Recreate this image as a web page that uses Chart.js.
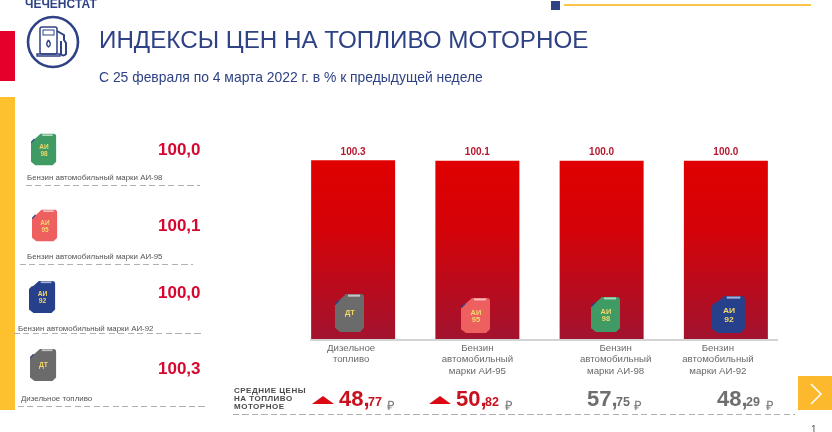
<!DOCTYPE html>
<html lang="ru">
<head>
<meta charset="utf-8">
<script src="https://cdn.jsdelivr.net/npm/chart.js@4/dist/chart.umd.min.js"></script>
<style>
    html, body { margin: 0; padding: 0; background: #fff; }
    #page { position: relative; width: 832px; height: 432px; overflow: hidden; font-family: "Liberation Sans", Arial, sans-serif; }
    #page div, #page svg { position: absolute; }
    #page canvas { position: absolute; left: 0; top: 0; }
    .t { white-space: nowrap; }
    .dash { height: 1px; background: repeating-linear-gradient(to right, #b0b0b0 0 6px, transparent 6px 9.500px); }
</style>
</head>
<body>
<div id="page">
    <canvas id="fuelChart" width="832" height="432"></canvas>
    <div style="left:0;top:31px;width:15px;height:50px;background:#e4002b"></div>
    <div style="left:0;top:97px;width:15px;height:313px;background:#fdc02f"></div>
    <div style="left:551px;top:1px;width:9px;height:9px;background:#2f4285"></div>
    <div style="left:564px;top:4px;width:247px;height:2px;background:#fbc64a"></div>
    <div class="t" style="left:25px;top:-3px;font-size:12px;font-weight:bold;color:#2f4285">ЧЕЧЕНСТАТ</div>
    <svg style="left:26px;top:15px" width="54" height="54" viewBox="0 0 54 54" fill="none" stroke="#2f4285">
        <circle cx="27" cy="27" r="25" stroke-width="2.600"/>
        <rect x="14" y="12" width="17" height="27" rx="2" stroke-width="1.500"/>
        <rect x="17" y="15" width="11" height="5" stroke-width="1"/>
        <path d="M11 41 H34 V39 H11 Z" stroke-width="1.400"/>
        <path d="M22.500 25 q-3.500 4.500 0 7 q3.500 -2.500 0 -7" stroke-width="1.400"/>
        <path d="M31 16 l7 4 v5 l2 3 v11 q-3 3 -5 0 v-13" stroke-width="2"/>
    </svg>
    <div class="t" style="left:99px;top:26px;font-size:24.200px;color:#2f4285">ИНДЕКСЫ ЦЕН НА ТОПЛИВО МОТОРНОЕ</div>
    <div class="t" style="left:99px;top:69px;font-size:13.900px;color:#2f4285">С 25 февраля по 4 марта 2022 г. в % к предыдущей неделе</div>
    <div class="t" style="left:234px;top:387px;font-size:8px;line-height:8px;font-weight:bold;color:#4a4a4a;letter-spacing:.5px">СРЕДНИЕ ЦЕНЫ<br>НА ТОПЛИВО<br>МОТОРНОЕ</div>
    <div class="dash" style="left:233px;top:414px;width:562px"></div>
    <div style="left:798px;top:376px;width:34px;height:34px;background:#fdb92e"></div>
    <svg style="left:798px;top:376px" width="34" height="34" fill="none" stroke="#fff" stroke-width="1.500"><path d="M13 8 L23 18 L13 28"/></svg>
    <div class="t" style="left:811px;top:424px;font-size:10px;color:#555">1</div>
</div>
<script>
    const categories = [['Дизельное', 'топливо'], ['Бензин', 'автомобильный', 'марки АИ-95'], ['Бензин', 'автомобильный', 'марки АИ-98'], ['Бензин', 'автомобильный', 'марки АИ-92']];
    const indexValues = [100.3, 100.1, 100.0, 100.0];
    const labelShift = [-2, 0, 14, -8];

    const canColors = ['#6b6b6b', '#ee5f60', '#3f9a63', '#27408b'];
    const canLabels = [['ДТ'], ['АИ', '95'], ['АИ', '98'], ['АИ', '92']];
    const canBoxes = [[335, 293, 30, 40], [461, 297, 30, 37], [591, 296, 30, 37], [712, 295, 34, 39]];

    const sideNames = ['Бензин автомобильный марки АИ-98', 'Бензин автомобильный марки АИ-95', 'Бензин автомобильный марки АИ-92', 'Дизельное топливо'];
    const sideValues = ['100,0', '100,1', '100,0', '100,3'];
    const sideColors = ['#3f9a63', '#ee5f60', '#27408b', '#6b6b6b'];
    const sideCanLabels = [['АИ', '98'], ['АИ', '95'], ['АИ', '92'], ['ДТ']];
    const sideCans = [[31, 133, 26, 33], [32, 209, 26, 33], [29, 280, 27, 34], [30, 348, 27, 34]];
    const sideNameX = [27, 27, 18, 21];
    const sideNameY = [173, 252, 324, 394];
    const sideValueY = [140, 216, 283, 359];
    const sideDash = [[26, 185, 174], [20, 264, 173], [14, 333, 188], [18, 406, 188]];

    const priceWhole = ['48', '50', '57', '48'];
    const priceCents = ['77', '82', '75', '29'];
    const priceX = [339, 456, 587, 717];
    const priceRubleX = [387, 505, 634, 766];
    const priceColors = ['#c8101e', '#c8101e', '#6e6e6e', '#6e6e6e'];
    const priceRise = [320, 437, null, null];

    const page = document.getElementById('page');

    function addCan(box, color, lines) {
        const [x, y, w, h] = box;
        const text = lines.map(function (line, i) {
            const ty = lines.length === 1 ? 21 : 18 + i * 8;
            return '<text x="15" y="' + ty + '" text-anchor="middle" font-size="7.5" font-weight="bold" fill="#f2d76b">' + line + '</text>';
        }).join('');
        const holder = document.createElementNS('http://www.w3.org/2000/svg', 'svg');
        holder.setAttribute('viewBox', '0 0 30 38');
        holder.setAttribute('preserveAspectRatio', 'none');
        holder.setAttribute('width', w);
        holder.setAttribute('height', h);
        holder.style.left = x + 'px';
        holder.style.top = y + 'px';
        holder.innerHTML = '<path d="M0 11 L11 1 H26 Q29 1 29 4 V33 L25 37 H5 L0 33 Z" fill="' + color + '"/>' +
            '<rect x="13" y="1.500" width="12" height="2" fill="#fff" opacity=".6"/>' +
            '<path d="M0 11 L4 7" stroke="#2f4285" stroke-width="1.500"/>' + text;
        page.appendChild(holder);
    }

    function addText(x, y, str, css) {
        const el = document.createElement('div');
        el.className = 't';
        el.textContent = str;
        el.style.cssText = 'left:' + x + 'px;top:' + y + 'px;' + css;
        page.appendChild(el);
    }

    sideNames.forEach(function (name, i) {
        addCan(sideCans[i], sideColors[i], sideCanLabels[i]);
        addText(sideNameX[i], sideNameY[i], name, 'font-size:7.900px;color:#555');
        addText(158, sideValueY[i], sideValues[i], 'font-size:17px;font-weight:bold;color:#d7062f');
        const d = document.createElement('div');
        d.className = 'dash';
        d.style.cssText = 'left:' + sideDash[i][0] + 'px;top:' + sideDash[i][1] + 'px;width:' + sideDash[i][2] + 'px';
        page.appendChild(d);
    });

    priceWhole.forEach(function (whole, i) {
        addText(priceX[i], 386, whole + ',', 'font-size:22px;font-weight:bold;color:' + priceColors[i]);
        addText(priceX[i] + 29, 395, priceCents[i], 'font-size:12.500px;font-weight:bold;color:' + priceColors[i]);
        addText(priceRubleX[i], 396, '₽', 'font-size:13px;color:#777');
        if (priceRise[i] !== null) {
            const tri = document.createElement('div');
            tri.style.cssText = 'left:' + (priceRise[i] - 8) + 'px;top:396px;width:0;height:0;' +
                'border-left:11px solid transparent;border-right:11px solid transparent;border-bottom:8px solid #d90a14';
            page.appendChild(tri);
        }
    });

    canColors.forEach(function (c, i) {
        addCan(canBoxes[i], c, canLabels[i]);
    });

    const barExtras = {
        id: 'barExtras',
        afterDatasetsDraw(chart) {
            const { ctx, scales: { x, y } } = chart;
            ctx.save();
            ctx.strokeStyle = '#a8a8a8';
            ctx.lineWidth = 1;
            ctx.beginPath();
            ctx.moveTo(310, y.getPixelForValue(0) + 1);
            ctx.lineTo(778, y.getPixelForValue(0) + 1);
            ctx.stroke();

            ctx.textAlign = 'center';
            ctx.textBaseline = 'middle';
            indexValues.forEach(function (v, i) {
                const cx = x.getPixelForValue(i);
                ctx.font = 'bold 10px "Liberation Sans", Arial, sans-serif';
                ctx.fillStyle = '#b5182e';
                ctx.fillText(v.toFixed(1), cx, y.getPixelForValue(v) - 8.500);
                ctx.font = '9.700px "Liberation Sans", Arial, sans-serif';
                ctx.fillStyle = '#6a6a6a';
                categories[i].forEach(function (line, n) {
                    ctx.fillText(line, cx + labelShift[i], y.getPixelForValue(0) + 9 + n * 11.700);
                });
            });
            ctx.restore();
        }
    };

    const ctxFuel = document.getElementById('fuelChart').getContext('2d');
    const fuelChart = new Chart(ctxFuel, {
        type: 'bar',
        data: {
            labels: categories.map(function (c) { return c.join(' '); }),
            datasets: [{
                data: indexValues,
                barPercentage: 0.676,
                categoryPercentage: 1,
                backgroundColor: function (context) {
                    const area = context.chart.chartArea;
                    if (!area) {
                        return '#c00a18';
                    }
                    const g = context.chart.ctx.createLinearGradient(0, 160, 0, area.bottom);
                    g.addColorStop(0, '#e00000');
                    g.addColorStop(0.4, '#d30309');
                    g.addColorStop(1, '#a2132f');
                    return g;
                }
            }]
        },
        options: {
            responsive: false,
            animation: false,
            layout: { padding: { left: 291, right: 44, top: 143, bottom: 93 } },
            plugins: { legend: { display: false }, tooltip: { enabled: false } },
            scales: {
                x: { display: false },
                y: { display: false, min: 0, max: 110 }
            }
        },
        plugins: [barExtras]
    });
</script>
</body>
</html>
